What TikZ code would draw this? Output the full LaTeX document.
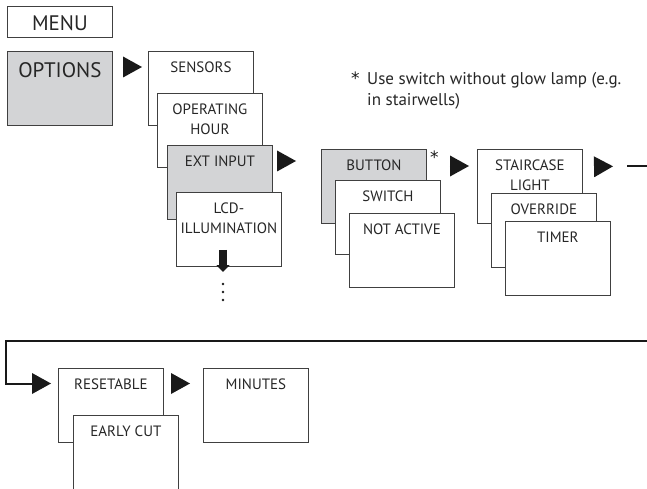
\documentclass[tikz,border=0pt]{standalone}
\usepackage{fontspec}
\setmainfont{PT Sans}
\newfontfamily\starfont{DejaVu Sans}
\usepackage{xcolor}
\usepackage{tikz}
\usetikzlibrary{arrows.meta, calc}

\definecolor{menugray}{RGB}{211,212,214}

\begin{document}
\begin{tikzpicture}[x=1pt, y=-1pt,
  menubox/.style={draw=black!75, line width=0.8pt, fill=white, anchor=north west,
    minimum width=105pt, inner xsep=0pt, inner ysep=0pt, align=center,
    text height=21.5pt, text depth=52.5pt, text=black!85,
    font=\fontsize{15}{19.5}\selectfont},
  selbox/.style={menubox, fill=menugray},
  twoline/.style={text height=41pt, text depth=33pt},
  bigtext/.style={font=\fontsize{21}{24}\selectfont},
  pointer/.style={-{Triangle[length=19pt, width=21pt, line width=0pt]}, line width=0.1pt, black!90},
  wire/.style={line width=2pt, black!90},
  fatarrow/.style={-{Triangle[length=7pt, width=13pt]}, line width=8pt, black!90},
  note/.style={anchor=base west, inner sep=0pt, text=black!85, font=\fontsize{17}{21}\selectfont},
  star/.style={note, text=black!90, font=\starfont\fontsize{17}{21}\selectfont}
]
\useasboundingbox (0,0) rectangle (647,489);

% menu tree
\node[menubox, bigtext, text height=24pt, text depth=7pt] (menu) at (7,6) {MENU};
\node[selbox, bigtext, text height=26pt, text depth=48pt] (options) at (7,51) {OPTIONS};
\node[menubox] (sensors) at (148,51) {SENSORS};
\node[menubox, twoline] (hours) at (157,93) {OPERATING\\HOUR};
\node[selbox] (extinput) at (167,145) {EXT INPUT};
\node[menubox, twoline] (lcd) at (176,192) {LCD-\\ILLUMINATION};
\node[selbox] (button) at (321,149) {BUTTON};
\node[menubox] (switch) at (335,180) {SWITCH};
\node[menubox] (notactive) at (349,213) {NOT ACTIVE};
\node[menubox, twoline] (staircase) at (477,149) {STAIRCASE\\LIGHT};
\node[menubox] (override) at (491,193) {OVERRIDE};
\node[menubox] (timer) at (505,221) {TIMER};
\node[menubox] (resetable) at (58,368) {RESETABLE};
\node[menubox, text depth=54pt] (earlycut) at (73,415) {EARLY CUT};
\node[menubox] (minutes) at (203,368) {MINUTES};

% footnote
\node[star] (buttonstar) at (430,164) {*};
\node[star] (notestar) at (351,85) {*};
\node[note, align=left] (notetext) at (367,106) {Use switch without glow lamp (e.g.\\in stairwells)};

% wrap line
\coordinate (wrapA) at (627,166);
\coordinate (wrapB) at (647,166);
\coordinate (wrapC) at (647,341);
\coordinate (wrapD) at (6,341);
\coordinate (more) at (223,284);

\draw[pointer, shorten <=10pt, shorten >=6pt] ([yshift=-16pt]options.north east) -- ([yshift=-16pt]sensors.north west);
\draw[pointer, shorten <=5pt, shorten >=25pt] ([yshift=-16pt]extinput.north east) -- ([yshift=-16pt]extinput.north east -| button.west);
\draw[pointer, shorten <=23pt, shorten >=8pt] ([yshift=-17pt]button.north east) -- ([yshift=-17pt]staircase.north west);
\draw[pointer, shorten <=12pt, shorten >=14pt] ([yshift=-18pt]staircase.north east) -- (wrapA);
\draw[wire] (wrapA) -- (wrapB);
\draw[wire, -{Triangle[length=19pt, width=21pt, line width=0pt]}, shorten >=7pt] (wrapC) -- (wrapD) |- ([yshift=-15.5pt]resetable.north west);
\draw[pointer, shorten <=8pt, shorten >=13pt] ([yshift=-15.5pt]resetable.north east) -- ([yshift=-15.5pt]minutes.north west);

% more entries
\draw[fatarrow] ($(lcd.south -| more)+(0,-17)$) -- ($(more)+(0,-12)$);
\foreach \dy in {0,8,16}
  \fill[black!90] ([yshift=-\dy pt]more) circle (1.3pt);
\end{tikzpicture}
\end{document}
